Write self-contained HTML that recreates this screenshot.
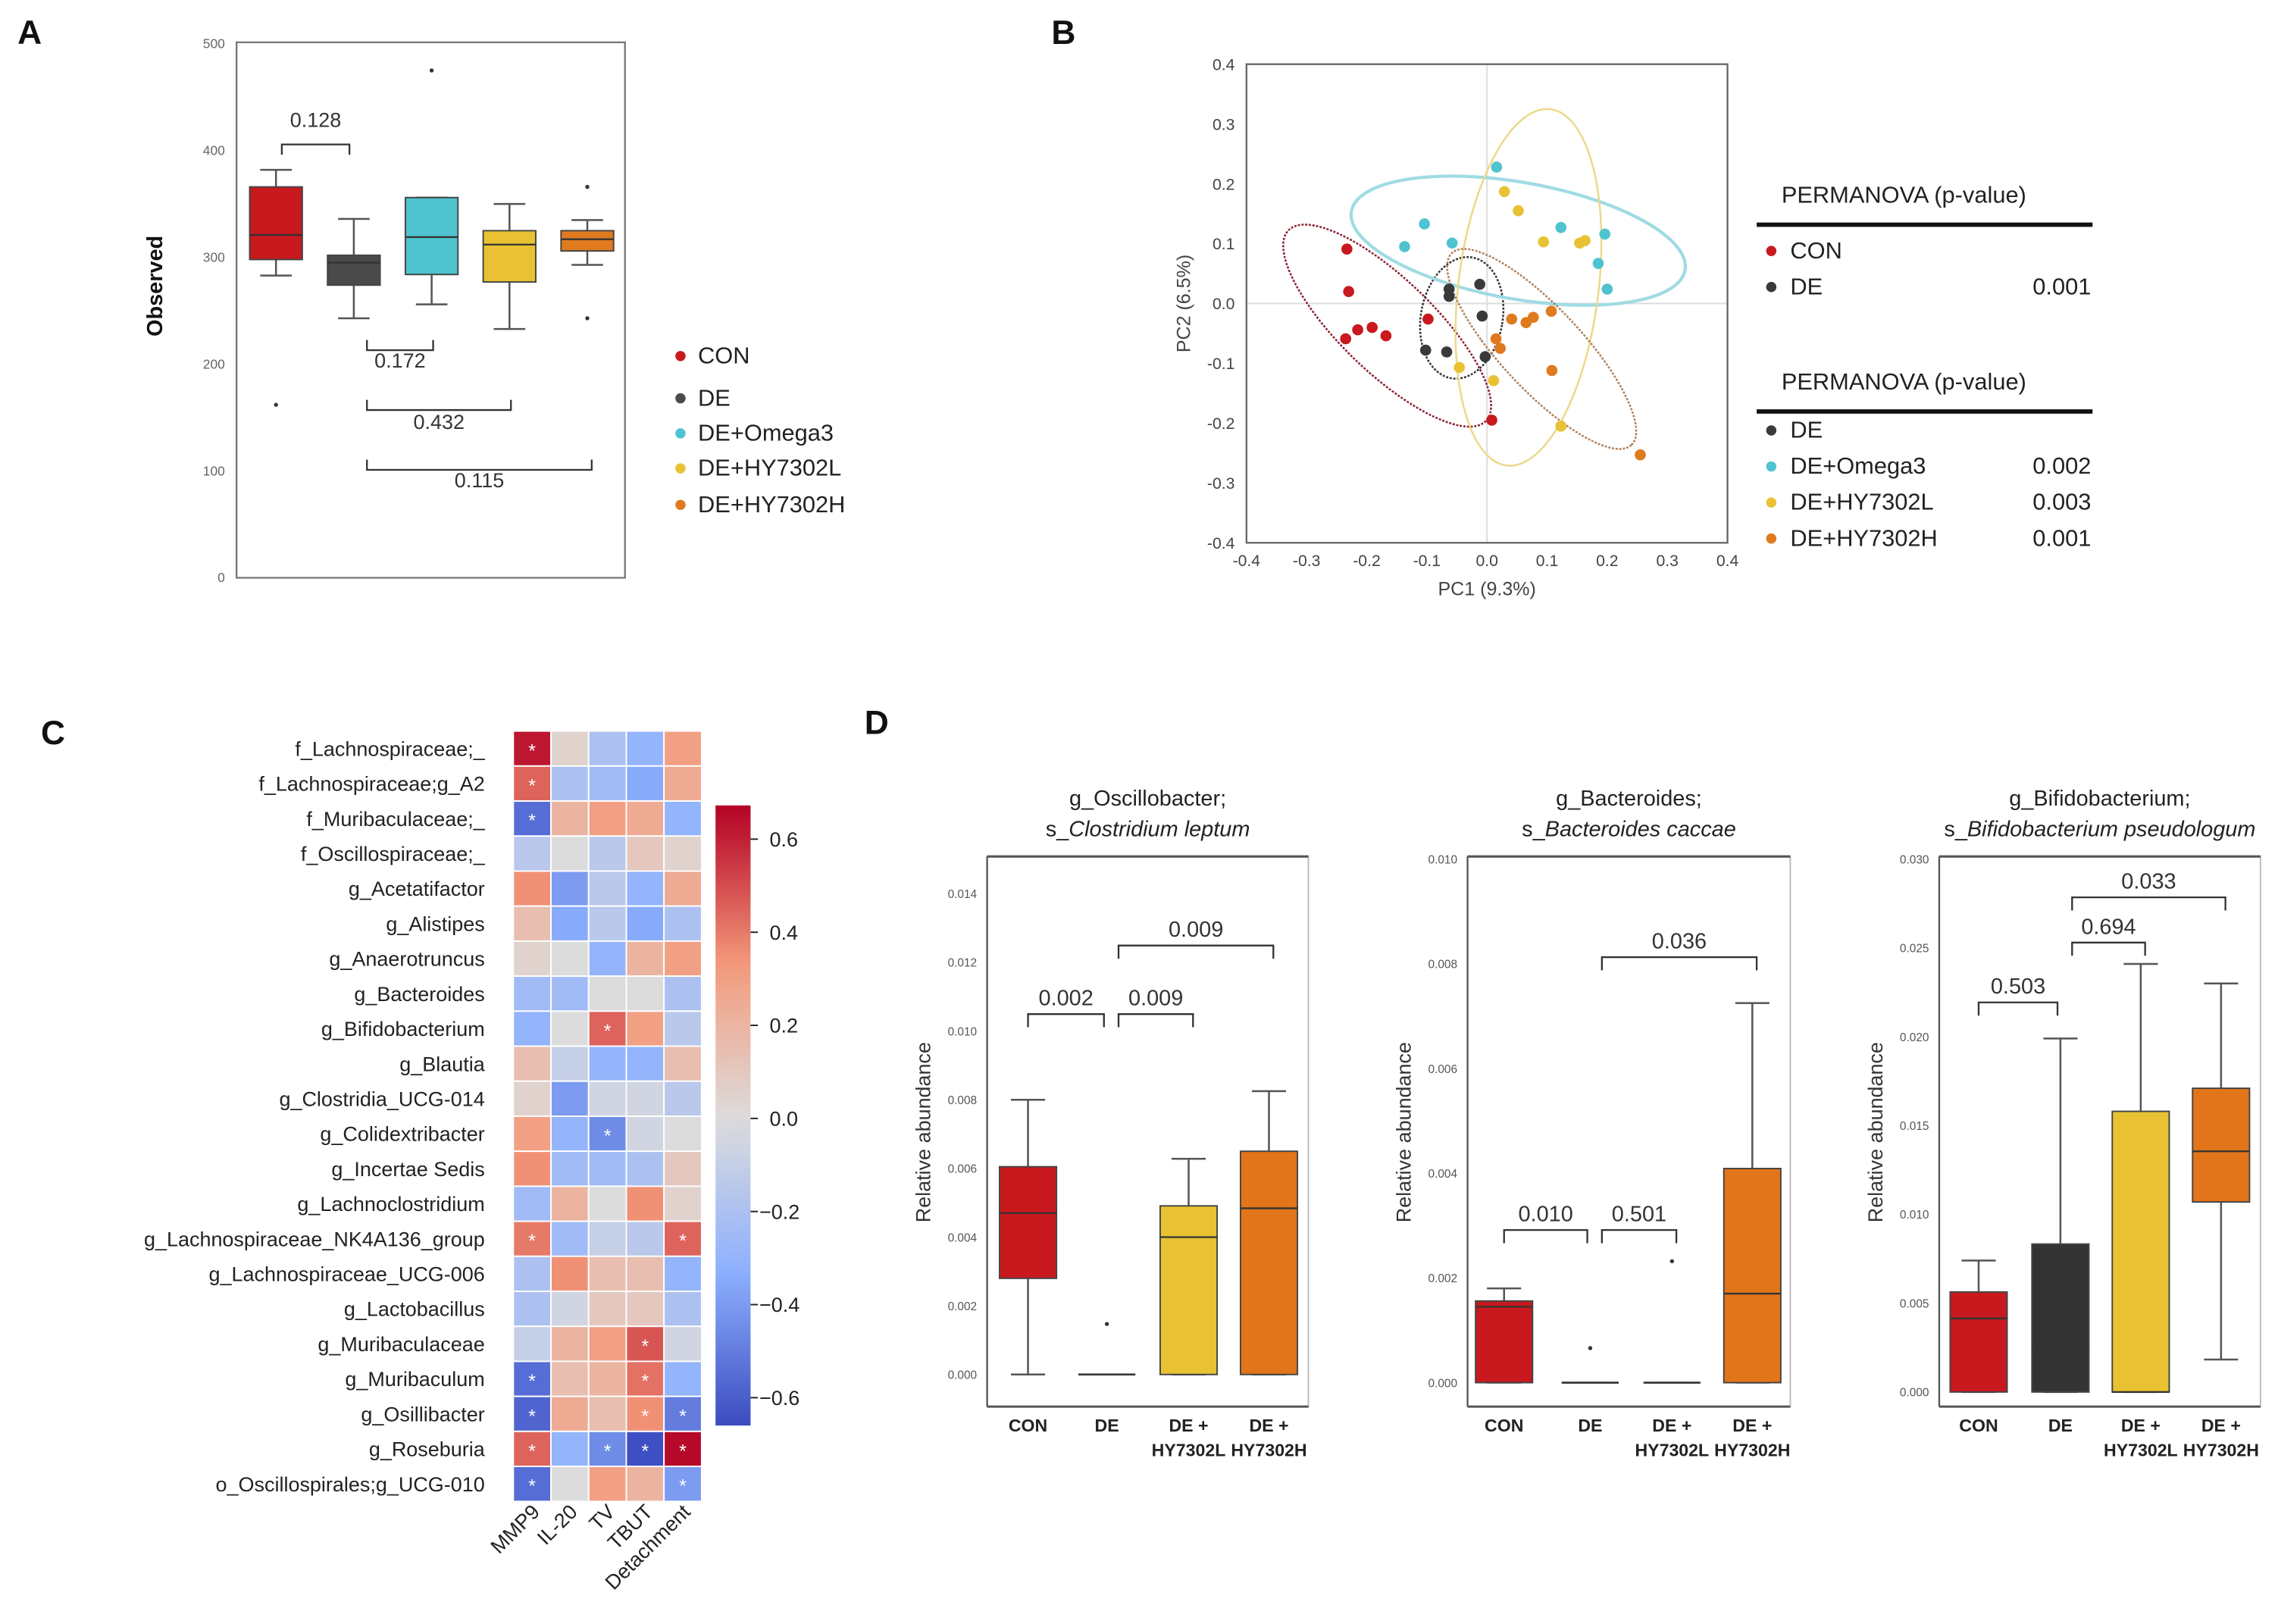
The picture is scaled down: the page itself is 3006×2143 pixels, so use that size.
<!DOCTYPE html>
<html><head><meta charset="utf-8">
<style>
html,body{margin:0;padding:0;background:#fff;}
svg{display:block;font-family:"Liberation Sans",Arial,sans-serif;}
</style></head>
<body>
<svg id="fig" xmlns="http://www.w3.org/2000/svg" width="3006" height="2143" viewBox="0 0 1560 1113" preserveAspectRatio="none">
<rect x="0" y="0" width="1560" height="1113" fill="#fff"/>
</svg>
<script>
// ---------- Panel A data ----------
const aGroups = ['CON','DE','DE+Omega3','DE+HY7302L','DE+HY7302H'];
const aLo  = [283,243,256,233,293];
const aQ1  = [298,274,284,277,306];
const aMed = [321,295,319,312,317];
const aQ3  = [366,302,356,325,325];
const aHi  = [382,336,356,350,335];
const aOut = [[162],[],[475],[],[366,243]];
const aTicks = [0,100,200,300,400,500];
const aBrackets = [[0,1,'0.128'],[1,2,'0.172'],[1,3,'0.432'],[1,4,'0.115']];

// ---------- Panel B data ----------
const bConX = [-0.233,-0.23,-0.235,-0.215,-0.191,-0.168,-0.098,0.008];
const bConY = [0.091,0.02,-0.059,-0.044,-0.040,-0.054,-0.026,-0.195];
const bDeX = [-0.063,-0.012,-0.063,-0.008,-0.102,-0.067,-0.003];
const bDeY = [0.024,0.032,0.012,-0.021,-0.078,-0.081,-0.089];
const bOmX = [0.016,-0.104,-0.137,-0.058,0.123,0.196,0.185,0.2];
const bOmY = [0.228,0.133,0.095,0.101,0.127,0.116,0.067,0.024];
const bLX = [0.029,0.052,0.094,0.154,0.163,-0.046,0.011,0.123];
const bLY = [0.187,0.155,0.103,0.101,0.105,-0.107,-0.129,-0.205];
const bHX = [0.041,0.065,0.077,0.107,0.015,0.022,0.108,0.255];
const bHY = [-0.026,-0.032,-0.023,-0.013,-0.059,-0.075,-0.112,-0.253];
const bEllCX = [-0.166,-0.042,0.052,0.069,0.091];
const bEllCY = [-0.037,-0.024,0.105,0.027,-0.076];
const bTicks = [-0.4,-0.3,-0.2,-0.1,0.0,0.1,0.2,0.3,0.4];
const bPerm1 = ['', '0.001'];
const bPerm2 = ['', '0.002','0.003','0.001'];

// ---------- Panel C data ----------
const cRows = ['f_Lachnospiraceae;_','f_Lachnospiraceae;g_A2','f_Muribaculaceae;_','f_Oscillospiraceae;_','g_Acetatifactor','g_Alistipes','g_Anaerotruncus','g_Bacteroides','g_Bifidobacterium','g_Blautia','g_Clostridia_UCG-014','g_Colidextribacter','g_Incertae Sedis','g_Lachnoclostridium','g_Lachnospiraceae_NK4A136_group','g_Lachnospiraceae_UCG-006','g_Lactobacillus','g_Muribaculaceae','g_Muribaculum','g_Osillibacter','g_Roseburia','o_Oscillospirales;g_UCG-010'];
const cCols = ['MMP9','IL-20','TV','TBUT','Detachment'];
const cVals = [
 [0.62,0.05,-0.2,-0.3,0.3],
 [0.45,-0.2,-0.25,-0.35,0.25],
 [-0.55,0.2,0.3,0.25,-0.3],
 [-0.15,0.0,-0.15,0.1,0.05],
 [0.35,-0.4,-0.15,-0.3,0.25],
 [0.15,-0.35,-0.15,-0.35,-0.2],
 [0.05,0.0,-0.3,0.2,0.3],
 [-0.25,-0.25,0.0,0.0,-0.2],
 [-0.3,0.0,0.45,0.3,-0.15],
 [0.15,-0.1,-0.3,-0.3,0.15],
 [0.05,-0.4,-0.05,-0.05,-0.15],
 [0.3,-0.3,-0.45,-0.05,0.0],
 [0.35,-0.25,-0.25,-0.2,0.1],
 [-0.25,0.2,0.0,0.35,0.05],
 [0.4,-0.25,-0.1,-0.15,0.45],
 [-0.2,0.35,0.15,0.15,-0.3],
 [-0.2,-0.05,0.1,0.1,-0.2],
 [-0.1,0.2,0.3,0.48,-0.05],
 [-0.55,0.15,0.2,0.42,-0.3],
 [-0.58,0.25,0.15,0.35,-0.5],
 [0.45,-0.3,-0.45,-0.65,0.65],
 [-0.55,0.0,0.3,0.2,-0.4]];
const cSig = [
 [1,0,0,0,0],[1,0,0,0,0],[1,0,0,0,0],[0,0,0,0,0],[0,0,0,0,0],[0,0,0,0,0],[0,0,0,0,0],[0,0,0,0,0],
 [0,0,1,0,0],[0,0,0,0,0],[0,0,0,0,0],[0,0,1,0,0],[0,0,0,0,0],[0,0,0,0,0],[1,0,0,0,1],[0,0,0,0,0],
 [0,0,0,0,0],[0,0,0,1,0],[1,0,0,1,0],[1,0,0,1,1],[1,0,1,1,1],[1,0,0,0,1]];
const cTicks = [0.6,0.4,0.2,0.0,-0.2,-0.4,-0.6];
const cTickLabels = ['0.6','0.4','0.2','0.0','\u22120.2','\u22120.4','\u22120.6'];

// ---------- Panel D data ----------
const dGroups = ['CON','DE','DE+HY7302L','DE+HY7302H'];
const d1Lo=[0,0,0,0], d1Q1=[0.0028,0,0,0], d1Med=[0.0047,0,0.004,0.00484], d1Q3=[0.00605,0,0.00491,0.0065], d1Hi=[0.008,0,0.00628,0.00825];
const d1Out=[[],[0.00147],[],[]];
const d1Ticks=[0,0.002,0.004,0.006,0.008,0.010,0.012,0.014];
const d2Lo=[0,0,0,0], d2Q1=[0,0,0,0], d2Med=[0.00145,0,0,0.0017], d2Q3=[0.00156,0,0,0.00409], d2Hi=[0.0018,0,0,0.00725];
const d2Out=[[],[0.00066],[0.00232],[]];
const d2Ticks=[0,0.002,0.004,0.006,0.008,0.010];
const d3Lo=[0,0,0,0.00183], d3Q1=[0,0,0,0.0107], d3Med=[0.00414,0.00246,0,0.01355], d3Q3=[0.00563,0.00833,0.0158,0.0171], d3Hi=[0.0074,0.0199,0.0241,0.023];
const d3Out=[[],[],[],[]];
const d3Ticks=[0,0.005,0.010,0.015,0.020,0.025,0.030];

const NS='http://www.w3.org/2000/svg';
const svg=document.getElementById('fig');
function mk(tag,attrs,parent){const e=document.createElementNS(NS,tag);for(const k in attrs)e.setAttribute(k,attrs[k]);(parent||svg).appendChild(e);return e;}
function txt(s,attrs,parent){const t=mk('text',attrs,parent);t.textContent=s;return t;}

[['A',12,30],['B',720,30],['C',28,510],['D',592,503]].forEach(p=>{
  const t=txt(p[0],{x:p[1],y:p[2],'font-size':23,'font-weight':'bold',fill:'#111'});
  
  
});

const aCol=['#c8191e','#4a4a4a','#4fc3cf','#e8c232','#e07a1e'];

function drawBox(g,cx,w,lo,q1,med,q3,hi,outs,yf,col,name){
  const grp=mk('g',{},g);
  
  
  mk('line',{x1:cx,x2:cx,y1:yf(hi),y2:yf(q3),stroke:'#555','stroke-width':1.3},grp);
  mk('line',{x1:cx,x2:cx,y1:yf(q1),y2:yf(lo),stroke:'#555','stroke-width':1.3},grp);
  mk('line',{x1:cx-w*0.3,x2:cx+w*0.3,y1:yf(hi),y2:yf(hi),stroke:'#555','stroke-width':1.3},grp);
  mk('line',{x1:cx-w*0.3,x2:cx+w*0.3,y1:yf(lo),y2:yf(lo),stroke:'#555','stroke-width':1.3},grp);
  const h=Math.max(yf(q1)-yf(q3),0);
  if(h>0.5){mk('rect',{x:cx-w/2,y:yf(q3),width:w,height:h,fill:col,stroke:'#444','stroke-width':1},grp);}
  else{mk('line',{x1:cx-w/2,x2:cx+w/2,y1:yf(q3),y2:yf(q3),stroke:'#999','stroke-width':1.5},grp);}
  mk('line',{x1:cx-w/2,x2:cx+w/2,y1:yf(med),y2:yf(med),stroke:'#333','stroke-width':1.2},grp);
  outs.forEach(o=>{
    const c=mk('circle',{cx:cx,cy:yf(o),r:1.4,fill:'#333'},grp);
    
    
  });
}

// ---------- Panel A ----------
(function(){
  const g=mk('g',{});
  
  
  const L=162,R=428,T=29,B=396;
  const yA=v=>B-v*(B-T-1)/500;
  const xA=i=>189+53.3*i;
  mk('rect',{x:L,y:T,width:R-L,height:B-T,fill:'none',stroke:'#777','stroke-width':1.2},g);
  aTicks.forEach(v=>{
    const t=txt(String(v),{x:L-8,y:yA(v)+3,'font-size':9,fill:'#666','text-anchor':'end'},g);
    
    
  });
  const yl=txt('Observed',{x:0,y:0,'font-size':15,'font-weight':'bold',fill:'#111','text-anchor':'middle',transform:'translate(111,196) rotate(-90)'},g);
  
  
  aGroups.forEach((n,i)=>drawBox(g,xA(i),36,aLo[i],aQ1[i],aMed[i],aQ3[i],aHi[i],aOut[i],yA,aCol[i],'box-'+n.toLowerCase()));
  const bY=[99,240,281,322], up=[false,true,true,true], tY=[87,252,294,334];
  aBrackets.forEach((b,k)=>{
    const xs=k===0?[xA(0)+4,xA(1)-3]:[xA(1)+9,b[1]===2?xA(2)+1:(b[1]===3?xA(3)+1:xA(4)+3)];
    const d=up[k]?`M${xs[0]},${bY[k]-7}V${bY[k]}H${xs[1]}V${bY[k]-7}`:`M${xs[0]},${bY[k]+7}V${bY[k]}H${xs[1]}V${bY[k]+7}`;
    const p=mk('path',{d:d,fill:'none',stroke:'#333','stroke-width':1.2},g);
    
    
    const t=txt(b[2],{x:(xs[0]+xs[1])/2,y:tY[k],'font-size':14,fill:'#333','text-anchor':'middle'},g);
    
    
  });
  const lyA=[249,278,302,326,351];
  aGroups.forEach((n,i)=>{
    const e=mk('g',{},g);
    
    
    mk('circle',{cx:466,cy:lyA[i]-5,r:3.5,fill:aCol[i]},e);
    txt(n,{x:478,y:lyA[i],'font-size':16,fill:'#222'},e);
  });
})();

// ---------- Panel B ----------
(function(){
  const g=mk('g',{});
  
  
  const L=853.6,R=1183,T=44,B=372;
  const xB=v=>L+(v+0.4)/0.8*(R-L);
  const yB=v=>T+(0.4-v)/0.8*(B-T);
  mk('line',{x1:xB(0),x2:xB(0),y1:T,y2:B,stroke:'#ddd','stroke-width':1},g);
  mk('line',{x1:L,x2:R,y1:yB(0),y2:yB(0),stroke:'#ddd','stroke-width':1},g);
  mk('rect',{x:L,y:T,width:R-L,height:B-T,fill:'none',stroke:'#666','stroke-width':1.2},g);
  bTicks.forEach(v=>{
    const s=v.toFixed(1).replace('-0.0','0.0');
    const t1=txt(s,{x:xB(v),y:B+16,'font-size':11,fill:'#444','text-anchor':'middle'},g);
    
    
    const t2=txt(s,{x:L-8,y:yB(v)+4,'font-size':11,fill:'#444','text-anchor':'end'},g);
    
    
  });
  const xt=txt('PC1 (9.3%)',{x:(L+R)/2,y:408,'font-size':13,fill:'#444','text-anchor':'middle'},g);
  
  
  const yt=txt('PC2 (6.5%)',{x:0,y:0,'font-size':13,fill:'#444','text-anchor':'middle',transform:'translate(815,208) rotate(-90)'},g);
  
  
  const eStroke=['#8a2030','#333','#9fdbe3','#ecd98a','#b0805a'];
  const eDash=['1.5,1','1.5,1','none','none','1.5,1'];
  const eW=[1.3,1.3,2.2,1.3,1.3];
  const eRx=[94,28,116,48,90], eRy=[32,42,40,123,28], eRot=[44,10,10,7,47];
  const eNames=['con','de','omega3','hy7302l','hy7302h'];
  bEllCX.forEach((cx,i)=>{
    const X=xB(cx),Y=yB(bEllCY[i]);
    const e=mk('ellipse',{cx:X,cy:Y,rx:eRx[i],ry:eRy[i],transform:`rotate(${eRot[i]} ${X} ${Y})`,fill:'none',stroke:eStroke[i],'stroke-width':eW[i],'stroke-dasharray':eDash[i]},g);
    
    
  });
  const sets=[[bOmX,bOmY,'#4fc3cf','omega3'],[bLX,bLY,'#e8c232','hy7302l'],[bHX,bHY,'#e07a1e','hy7302h'],[bConX,bConY,'#c8191e','con'],[bDeX,bDeY,'#3a3a3a','de']];
  sets.forEach(s=>{
    s[0].forEach((x,i)=>{
      const c=mk('circle',{cx:xB(x),cy:yB(s[1][i]),r:3.8,fill:s[2]},g);
      
      
    });
  });
  function table(y0,first,names,cols,vals,nm){
    const tg=mk('g',{},g);
    
    
    txt('PERMANOVA (p-value)',{x:1220,y:y0,'font-size':16,fill:'#222'},tg);
    mk('line',{x1:1203,x2:1433,y1:y0+15,y2:y0+15,stroke:'#111','stroke-width':3},tg);
    names.forEach((n,i)=>{
      const yy=y0+first+i*24.7;
      mk('circle',{cx:1213,cy:yy-5,r:3.5,fill:cols[i]},tg);
      txt(n,{x:1226,y:yy,'font-size':16,fill:'#222'},tg);
      if(vals[i])txt(vals[i],{x:1432,y:yy,'font-size':16,fill:'#222','text-anchor':'end'},tg);
    });
  }
  table(139,38,['CON','DE'],['#c8191e','#3a3a3a'],bPerm1,'permanova-table-con-de');
  table(267,33,['DE','DE+Omega3','DE+HY7302L','DE+HY7302H'],['#3a3a3a','#4fc3cf','#e8c232','#e07a1e'],bPerm2,'permanova-table-treatments');
})();

// ---------- Panel C ----------
function coolwarm(v){
  const t=Math.max(0,Math.min(1,(v+0.66)/1.32));
  const st=[[0,[59,76,192]],[0.25,[141,176,254]],[0.5,[221,220,220]],[0.75,[244,154,123]],[1,[180,4,38]]];
  for(let i=0;i<st.length-1;i++){
    if(t<=st[i+1][0]){const f=(t-st[i][0])/(st[i+1][0]-st[i][0]);
      const c=st[i][1].map((a,k)=>Math.round(a+(st[i+1][1][k]-a)*f));return `rgb(${c[0]},${c[1]},${c[2]})`;}
  }
  return 'rgb(180,4,38)';
}
(function(){
  const g=mk('g',{});
  
  
  const X0=351.5,Y0=501,cw=25.8,ch=24;
  cRows.forEach((r,i)=>{
    const t=txt(r,{x:332,y:Y0+i*ch+ch/2+5,'font-size':14,fill:'#222','text-anchor':'end'},g);
    
    
    cCols.forEach((c,j)=>{
      const rc=mk('rect',{x:X0+j*cw,y:Y0+i*ch,width:cw,height:ch,fill:coolwarm(cVals[i][j]),stroke:'#fff','stroke-width':1},g);
      
      
      if(cSig[i][j]){
        const s=txt('*',{x:X0+j*cw+cw/2,y:Y0+i*ch+ch/2+6,'font-size':13,fill:'#fff','text-anchor':'middle'},g);
        
        
      }
    });
  });
  cCols.forEach((c,j)=>{
    const x=X0+j*cw+cw/2+6, y=Y0+cRows.length*ch+8;
    const t=txt(c,{x:0,y:0,'font-size':14,fill:'#222','text-anchor':'end',transform:`translate(${x},${y}) rotate(-45)`},g);
    
    
  });
  const cbT=552,cbB=977,cbX=490,cbW=24;
  const yC=v=>766.5-v*319;
  const defs=mk('defs',{},g);
  const lg=mk('linearGradient',{id:'cbgrad',x1:0,y1:0,x2:0,y2:1},defs);
  for(let k=0;k<=20;k++){
    const v=0.672-(k/20)*(0.672+0.66);
    mk('stop',{offset:(k/20),'stop-color':coolwarm(v)},lg);
  }
  const cb=mk('rect',{x:cbX,y:cbT,width:cbW,height:cbB-cbT,fill:'url(#cbgrad)'},g);
  
  
  cTicks.forEach((v,k)=>{
    mk('line',{x1:cbX+cbW,x2:cbX+cbW+5,y1:yC(v),y2:yC(v),stroke:'#222','stroke-width':1},g);
    const t=txt(cTickLabels[k],{x:cbX+cbW+(v<0?6:13),y:yC(v)+5,'font-size':14,fill:'#222'},g);
    
    
  });
})();

// ---------- Panel D ----------
const dCol=['#c8191e','#333333','#e8c232','#e2751a'];
function subplot(cfg){
  const g=mk('g',{});
  
  
  const T=587,B=964;
  const yD=v=>cfg.y0-v*cfg.pxPerUnit;
  mk('rect',{x:cfg.L,y:T,width:cfg.R-cfg.L,height:B-T,fill:'none',stroke:'#bbb','stroke-width':1},g);
  mk('line',{x1:cfg.L,x2:cfg.R,y1:T,y2:T,stroke:'#555','stroke-width':1.6},g);
  mk('line',{x1:cfg.L,x2:cfg.R,y1:B,y2:B,stroke:'#555','stroke-width':1.6},g);
  mk('line',{x1:cfg.L,x2:cfg.L,y1:T,y2:B,stroke:'#555','stroke-width':1.2},g);
  cfg.ticks.forEach(v=>{
    const t=txt(v.toFixed(3),{x:cfg.L-7,y:yD(v)+3,'font-size':8,fill:'#555','text-anchor':'end'},g);
    
    
  });
  const yl=txt('Relative abundance',{x:0,y:0,'font-size':14,fill:'#333','text-anchor':'middle',transform:`translate(${cfg.L-39},776) rotate(-90)`},g);
  
  
  const t1=txt(cfg.t1,{x:(cfg.L+cfg.R)/2,y:552,'font-size':15,fill:'#222','text-anchor':'middle'},g);
  
  
  const t2=mk('text',{x:(cfg.L+cfg.R)/2,y:573,'font-size':15,fill:'#222','text-anchor':'middle'},g);
  
  
  const s1=mk('tspan',{},t2); s1.textContent='s_';
  const s2=mk('tspan',{'font-style':'italic'},t2); s2.textContent=cfg.t2;
  dGroups.forEach((n,i)=>{
    const cx=cfg.cx[i];
    drawBox(g,cx,39,cfg.lo[i],cfg.q1[i],cfg.med[i],cfg.q3[i],cfg.hi[i],cfg.out[i],yD,dCol[i],'box-'+n.toLowerCase());
    const parts=i<2?[n]:['DE +',n.slice(3)];
    parts.forEach((p,k)=>{
      const t=txt(p,{x:cx,y:981+k*17,'font-size':12,'font-weight':'bold',fill:'#222','text-anchor':'middle'},g);
      
      
    });
  });
  cfg.br.forEach(b=>{
    const x1=cfg.cx[b[0]]+(b[0]===0?0:8), x2=cfg.cx[b[1]]+(b[1]===1?-2:3);
    const p=mk('path',{d:`M${x1},${b[2]+9}V${b[2]}H${x2}V${b[2]+9}`,fill:'none',stroke:'#333','stroke-width':1.2},g);
    
    
    const t=txt(b[3],{x:(x1+x2)/2,y:b[2]-6,'font-size':15,fill:'#333','text-anchor':'middle'},g);
    
    
  });
}
subplot({name:'panel-d-oscillobacter-boxplot',L:676,R:896,y0:942,pxPerUnit:(942-612.5)/0.014,ticks:d1Ticks,
  cx:[704,758,814,869],lo:d1Lo,q1:d1Q1,med:d1Med,q3:d1Q3,hi:d1Hi,out:d1Out,t1:'g_Oscillobacter;',t2:'Clostridium leptum',
  br:[[0,1,695,'0.002'],[1,2,695,'0.009'],[1,3,648,'0.009']]});
subplot({name:'panel-d-bacteroides-boxplot',L:1005,R:1226,y0:947.6,pxPerUnit:(947.6-588.8)/0.010,ticks:d2Ticks,
  cx:[1030,1089,1145,1200],lo:d2Lo,q1:d2Q1,med:d2Med,q3:d2Q3,hi:d2Hi,out:d2Out,t1:'g_Bacteroides;',t2:'Bacteroides caccae',
  br:[[0,1,843,'0.010'],[1,2,843,'0.501'],[1,3,656,'0.036']]});
subplot({name:'panel-d-bifidobacterium-boxplot',L:1328,R:1548,y0:954,pxPerUnit:(954-588.8)/0.030,ticks:d3Ticks,
  cx:[1355,1411,1466,1521],lo:d3Lo,q1:d3Q1,med:d3Med,q3:d3Q3,hi:d3Hi,out:d3Out,t1:'g_Bifidobacterium;',t2:'Bifidobacterium pseudologum',
  br:[[0,1,687,'0.503'],[1,2,646,'0.694'],[1,3,615,'0.033']]});
</script>
</body></html>
